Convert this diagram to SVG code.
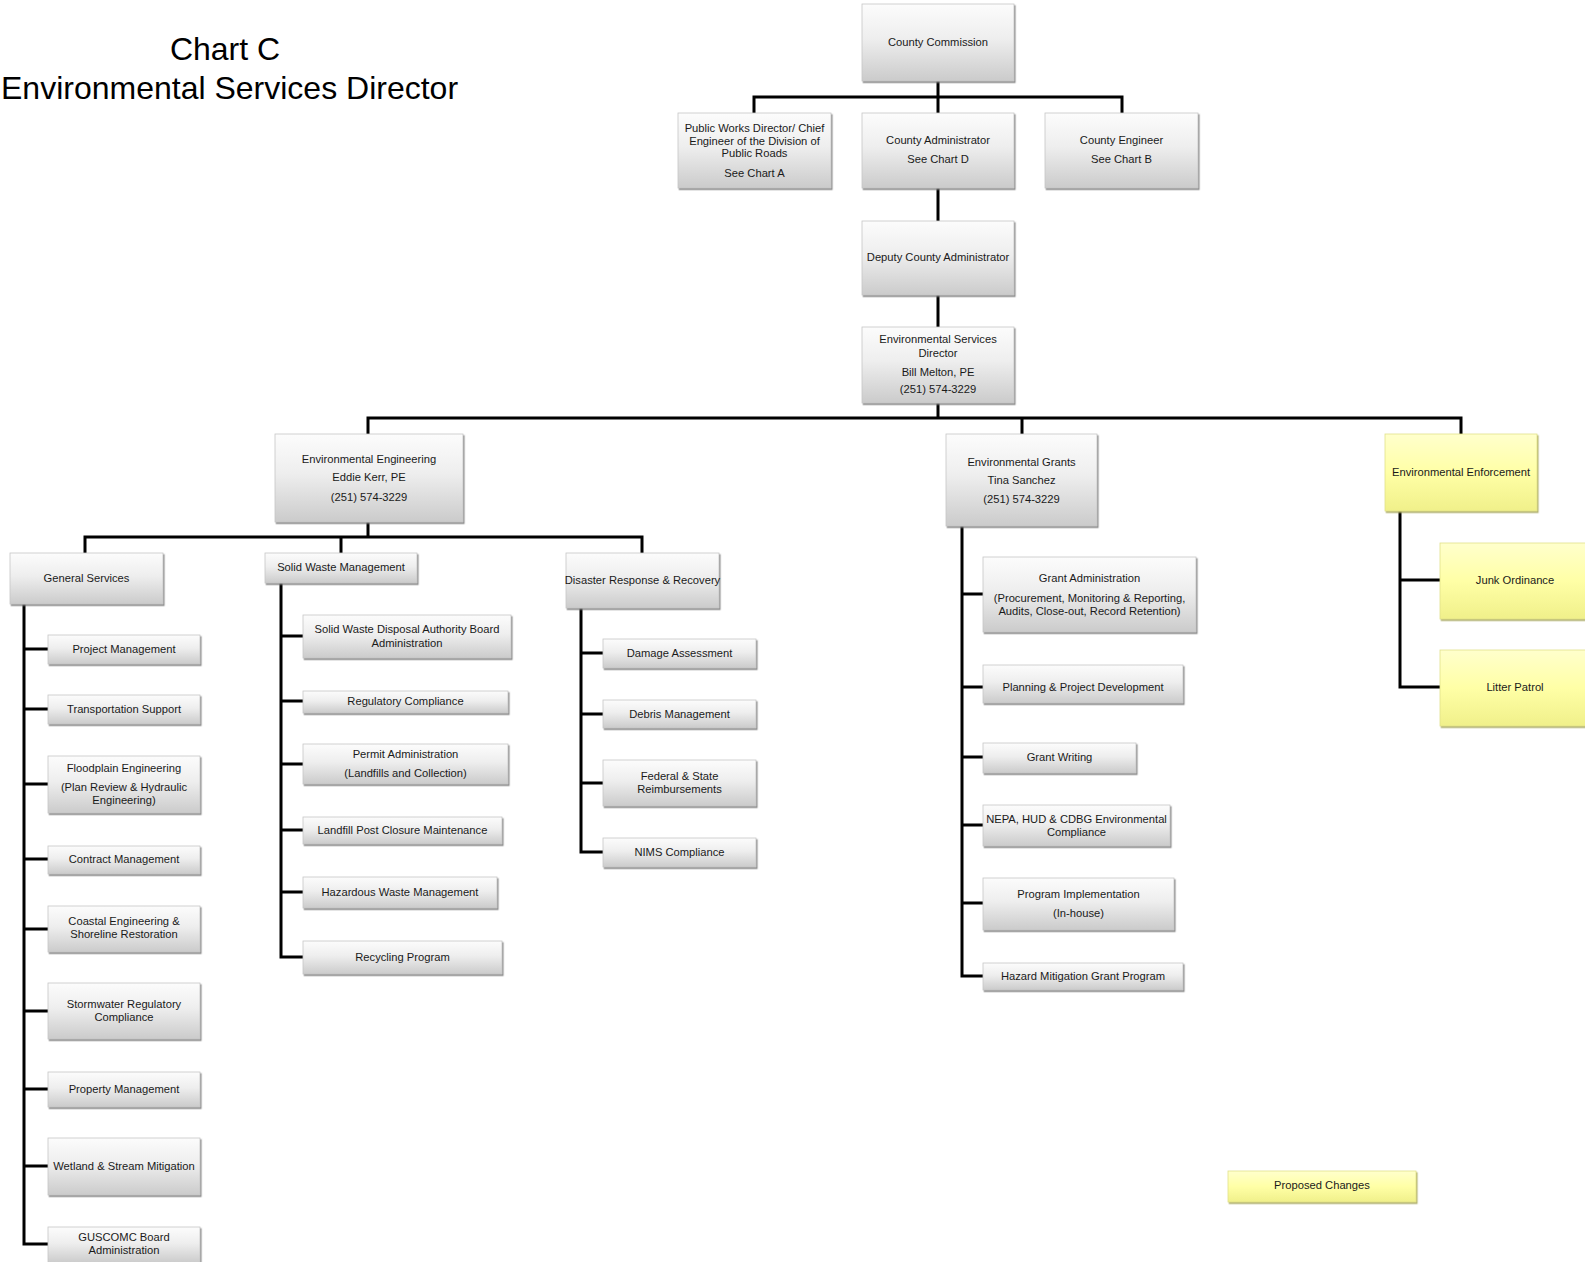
<svg xmlns="http://www.w3.org/2000/svg" width="1585" height="1262" viewBox="0 0 1585 1262">
<style>
.title{font-family:"Liberation Sans",Arial,sans-serif;font-size:32px;fill:#000;text-anchor:middle}
.t{font-family:"Liberation Sans",Arial,sans-serif;font-size:11.2px;fill:#1a1a1a;text-anchor:middle}
.g rect{fill:url(#gray);stroke:#c6c6c6;stroke-width:0.8;filter:url(#sh)}
.y rect{fill:url(#yel);stroke:#e0e08a;stroke-width:0.8;filter:url(#shy)}
.c path{fill:none;stroke:#000;stroke-width:3;stroke-linejoin:miter}
</style>
<defs>
<linearGradient id="gray" x1="0" y1="0" x2="0" y2="1">
<stop offset="0" stop-color="#fcfcfc"/>
<stop offset="0.45" stop-color="#eeeeee"/>
<stop offset="1" stop-color="#cbcbcb"/>
</linearGradient>
<linearGradient id="yel" x1="0" y1="0" x2="0" y2="1">
<stop offset="0" stop-color="#ffffcc"/>
<stop offset="0.5" stop-color="#ffffa6"/>
<stop offset="1" stop-color="#f0f08a"/>
</linearGradient>
<filter id="sh" x="-5%" y="-5%" width="110%" height="115%">
<feDropShadow dx="1.2" dy="1.6" stdDeviation="0.6" flood-color="#777" flood-opacity="0.85"/>
</filter>
<filter id="shy" x="-5%" y="-5%" width="110%" height="115%">
<feDropShadow dx="1.2" dy="1.6" stdDeviation="0.6" flood-color="#a8a860" flood-opacity="0.9"/>
</filter>
</defs>
<rect width="1585" height="1262" fill="#fff"/>
<text class="title" x="225" y="60">Chart C</text>
<text class="title" x="1" y="99" style="text-anchor:start">Environmental Services Director</text>

<g id="connectors" class="c">
<path d="M938 81 V221"/>
<path d="M754 113 V97 H1122 V113"/>
<path d="M938 295 V327"/>
<path d="M938 403 V418"/>
<path d="M368 434 V418 H1461 V434"/>
<path d="M1022 418 V434"/>
<path d="M368 522 V537"/>
<path d="M85 553 V537 H642 V553"/>
<path d="M341 537 V553"/>
<path d="M24 604 V1244 H48"/>
<path d="M24 649 H48 M24 709 H48 M24 784 H48 M24 859 H48 M24 929 H48 M24 1011 H48 M24 1089 H48 M24 1166 H48"/>
<path d="M281 583 V957 H303"/>
<path d="M281 636 H303 M281 701 H303 M281 764 H303 M281 830 H303 M281 892 H303"/>
<path d="M581 608 V852 H603"/>
<path d="M581 653 H603 M581 714 H603 M581 783 H603"/>
<path d="M962 526 V976 H983"/>
<path d="M962 594 H983 M962 687 H983 M962 757 H983 M962 825 H983 M962 903 H983"/>
<path d="M1400 511 V687 H1440"/>
<path d="M1400 580 H1440"/>
</g>

<g id="n-commission" class="g"><rect x="862" y="4" width="152" height="77"/><text class="t" x="938" y="46">County Commission</text></g>
<g id="n-publicworks" class="g"><rect x="678" y="113" width="153" height="75"/>
<text class="t" x="754.5" y="132">Public Works Director/ Chief</text>
<text class="t" x="754.5" y="144.5">Engineer of the Division of</text>
<text class="t" x="754.5" y="157">Public Roads</text>
<text class="t" x="754.5" y="177">See Chart A</text></g>
<g id="n-administrator" class="g"><rect x="862" y="113" width="152" height="75"/>
<text class="t" x="938" y="144">County Administrator</text>
<text class="t" x="938" y="163">See Chart D</text></g>
<g id="n-engineer" class="g"><rect x="1045" y="113" width="153" height="75"/>
<text class="t" x="1121.5" y="144">County Engineer</text>
<text class="t" x="1121.5" y="163">See Chart B</text></g>
<g id="n-deputy" class="g"><rect x="862" y="221" width="152" height="74"/>
<text class="t" x="938" y="261">Deputy County Administrator</text></g>
<g id="n-director" class="g"><rect x="862" y="327" width="152" height="76"/>
<text class="t" x="938" y="343">Environmental Services</text>
<text class="t" x="938" y="357">Director</text>
<text class="t" x="938" y="376">Bill Melton, PE</text>
<text class="t" x="938" y="393">(251) 574-3229</text></g>

<g id="n-enveng" class="g"><rect x="275" y="434" width="188" height="88"/>
<text class="t" x="369" y="463">Environmental Engineering</text>
<text class="t" x="369" y="481">Eddie Kerr, PE</text>
<text class="t" x="369" y="501">(251) 574-3229</text></g>
<g id="n-envgrants" class="g"><rect x="946" y="434" width="151" height="92"/>
<text class="t" x="1021.5" y="466">Environmental Grants</text>
<text class="t" x="1021.5" y="484">Tina Sanchez</text>
<text class="t" x="1021.5" y="503">(251) 574-3229</text></g>
<g id="n-enforcement" class="y"><rect x="1385" y="434" width="152" height="77"/>
<text class="t" x="1461" y="476">Environmental Enforcement</text></g>

<g id="n-general" class="g"><rect x="10" y="553" width="153" height="51"/>
<text class="t" x="86.5" y="582">General Services</text></g>
<g id="n-swm" class="g"><rect x="265" y="553" width="152" height="30"/>
<text class="t" x="341" y="571">Solid Waste Management</text></g>
<g id="n-disaster" class="g"><rect x="566" y="553" width="153" height="55"/>
<text class="t" x="642.5" y="584">Disaster Response &amp; Recovery</text></g>

<g id="n-projmgmt" class="g"><rect x="48" y="635" width="152" height="29"/><text class="t" x="124" y="653">Project Management</text></g>
<g id="n-transport" class="g"><rect x="48" y="695" width="152" height="29"/><text class="t" x="124" y="713">Transportation Support</text></g>
<g id="n-floodplain" class="g"><rect x="48" y="756" width="152" height="57"/>
<text class="t" x="124" y="772">Floodplain Engineering</text>
<text class="t" x="124" y="791">(Plan Review &amp; Hydraulic</text>
<text class="t" x="124" y="804">Engineering)</text></g>
<g id="n-contract" class="g"><rect x="48" y="846" width="152" height="28"/><text class="t" x="124" y="863">Contract Management</text></g>
<g id="n-coastal" class="g"><rect x="48" y="906" width="152" height="46"/>
<text class="t" x="124" y="925">Coastal Engineering &amp;</text>
<text class="t" x="124" y="938">Shoreline Restoration</text></g>
<g id="n-stormwater" class="g"><rect x="48" y="983" width="152" height="56"/>
<text class="t" x="124" y="1008">Stormwater Regulatory</text>
<text class="t" x="124" y="1021">Compliance</text></g>
<g id="n-property" class="g"><rect x="48" y="1072" width="152" height="35"/><text class="t" x="124" y="1093">Property Management</text></g>
<g id="n-wetland" class="g"><rect x="48" y="1138" width="152" height="57"/><text class="t" x="124" y="1170">Wetland &amp; Stream Mitigation</text></g>
<g id="n-guscomc" class="g"><rect x="48" y="1227" width="152" height="36"/>
<text class="t" x="124" y="1241">GUSCOMC Board</text>
<text class="t" x="124" y="1254">Administration</text></g>

<g id="n-swdab" class="g"><rect x="303" y="615" width="208" height="43"/>
<text class="t" x="407" y="633">Solid Waste Disposal Authority Board</text>
<text class="t" x="407" y="647">Administration</text></g>
<g id="n-regulatory" class="g"><rect x="303" y="691" width="205" height="22"/><text class="t" x="405.5" y="705">Regulatory Compliance</text></g>
<g id="n-permit" class="g"><rect x="303" y="744" width="205" height="40"/>
<text class="t" x="405.5" y="758">Permit Administration</text>
<text class="t" x="405.5" y="777">(Landfills and Collection)</text></g>
<g id="n-landfill" class="g"><rect x="303" y="817" width="199" height="27"/><text class="t" x="402.5" y="834">Landfill Post Closure Maintenance</text></g>
<g id="n-hazwaste" class="g"><rect x="303" y="877" width="194" height="31"/><text class="t" x="400" y="896">Hazardous Waste Management</text></g>
<g id="n-recycling" class="g"><rect x="303" y="941" width="199" height="33"/><text class="t" x="402.5" y="961">Recycling Program</text></g>

<g id="n-damage" class="g"><rect x="603" y="639" width="153" height="29"/><text class="t" x="679.5" y="657">Damage Assessment</text></g>
<g id="n-debris" class="g"><rect x="603" y="700" width="153" height="28"/><text class="t" x="679.5" y="718">Debris Management</text></g>
<g id="n-federal" class="g"><rect x="603" y="760" width="153" height="46"/>
<text class="t" x="679.5" y="780">Federal &amp; State</text>
<text class="t" x="679.5" y="793">Reimbursements</text></g>
<g id="n-nims" class="g"><rect x="603" y="838" width="153" height="29"/><text class="t" x="679.5" y="856">NIMS Compliance</text></g>

<g id="n-grantadmin" class="g"><rect x="983" y="557" width="213" height="75"/>
<text class="t" x="1089.5" y="582">Grant Administration</text>
<text class="t" x="1089.5" y="602">(Procurement, Monitoring &amp; Reporting,</text>
<text class="t" x="1089.5" y="615">Audits, Close-out, Record Retention)</text></g>
<g id="n-planning" class="g"><rect x="983" y="665" width="200" height="38"/><text class="t" x="1083" y="691">Planning &amp; Project Development</text></g>
<g id="n-grantwriting" class="g"><rect x="983" y="743" width="153" height="30"/><text class="t" x="1059.5" y="761">Grant Writing</text></g>
<g id="n-nepa" class="g"><rect x="983" y="805" width="187" height="41"/>
<text class="t" x="1076.5" y="823">NEPA, HUD &amp; CDBG Environmental</text>
<text class="t" x="1076.5" y="836">Compliance</text></g>
<g id="n-programimpl" class="g"><rect x="983" y="878" width="191" height="52"/>
<text class="t" x="1078.5" y="898">Program Implementation</text>
<text class="t" x="1078.5" y="917">(In-house)</text></g>
<g id="n-hazmit" class="g"><rect x="983" y="963" width="200" height="27"/><text class="t" x="1083" y="980">Hazard Mitigation Grant Program</text></g>

<g id="n-junk" class="y"><rect x="1440" y="543" width="150" height="76"/><text class="t" x="1515" y="584">Junk Ordinance</text></g>
<g id="n-litter" class="y"><rect x="1440" y="650" width="150" height="76"/><text class="t" x="1515" y="691">Litter Patrol</text></g>

<g id="n-proposed" class="y"><rect x="1228" y="1171" width="188" height="31"/><text class="t" x="1322" y="1189">Proposed Changes</text></g>
</svg>
